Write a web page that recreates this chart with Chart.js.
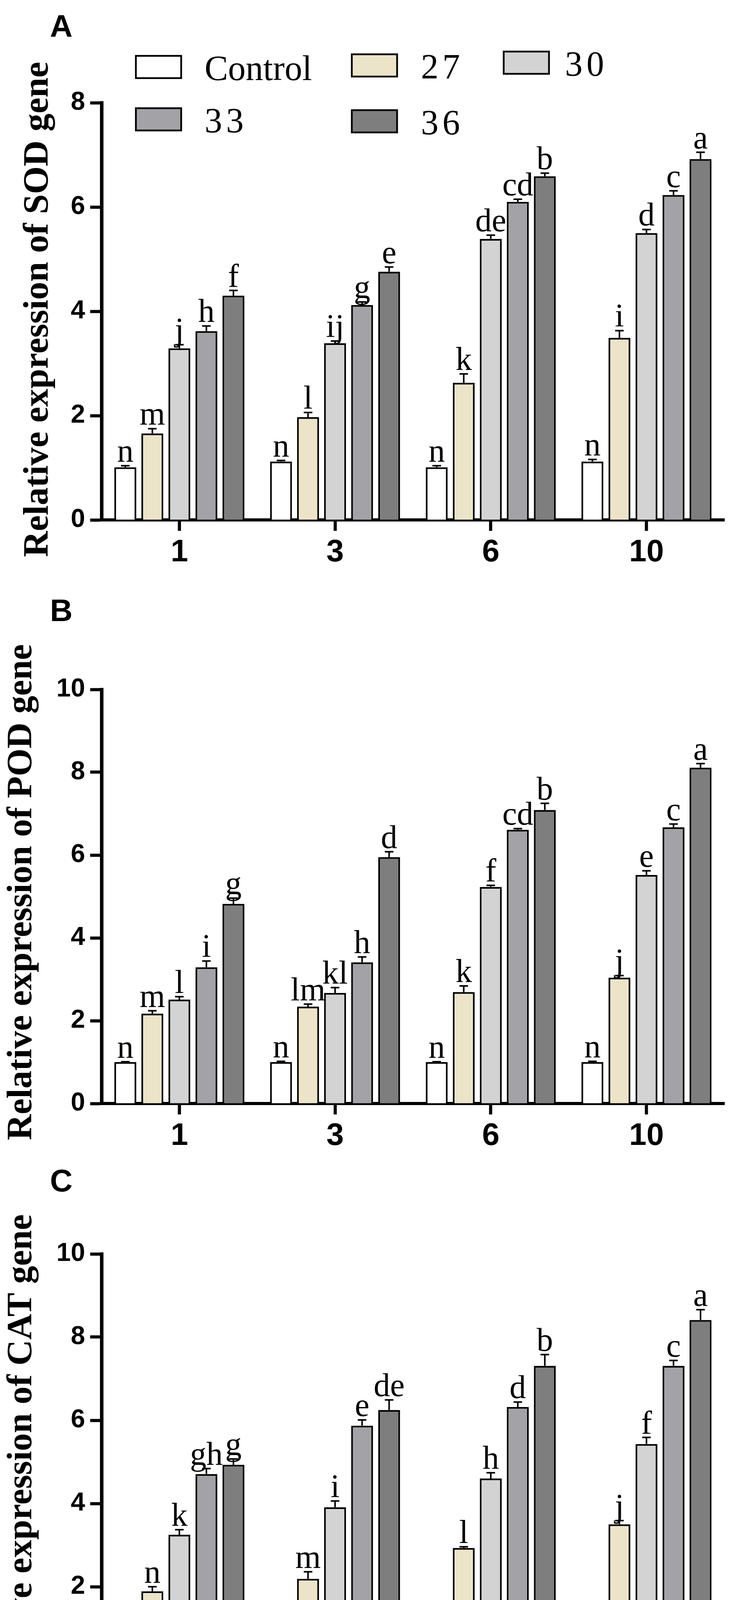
<!DOCTYPE html>
<html>
<head>
<meta charset="utf-8">
<title>Relative expression of SOD, POD and CAT genes</title>
<script src="https://cdn.jsdelivr.net/npm/chart.js@4.4.1/dist/chart.umd.min.js"></script>
<style>
  html, body { margin: 0; padding: 0; background: #fff; }
  body { width: 1867px; height: 4536px; position: relative; overflow: hidden; }
  .panel { position: absolute; left: 0; width: 1867px; }
</style>
</head>
<body>
<div class="panel" style="top:0;height:1481px"><canvas id="chartSOD"></canvas></div>
<div class="panel" style="top:1481px;height:1494px"><canvas id="chartPOD"></canvas></div>
<div class="panel" style="top:2975px;height:1561px"><canvas id="chartCAT"></canvas></div>

<script>
// ---- data ----
const durations = ['1', '3', '6', '10'];
const seriesNames = ['Control', '27', '30', '33', '36'];
const seriesColors = ['#ffffff', '#ebe4c9', '#d3d3d3', '#a3a3a7', '#7e7e7e'];

// SOD (panel A) - one row per series, one column per duration
const sodMean = [
  [1.01, 1.12, 1.01, 1.12],
  [1.66, 1.97, 2.63, 3.49],
  [3.29, 3.39, 5.39, 5.50],
  [3.62, 4.12, 6.10, 6.23],
  [4.30, 4.76, 6.59, 6.92]
];
const sodSd = [
  [0.03, 0.02, 0.03, 0.04],
  [0.09, 0.09, 0.17, 0.14],
  [0.07, 0.04, 0.07, 0.07],
  [0.10, 0.06, 0.05, 0.08],
  [0.10, 0.09, 0.06, 0.13]
];
const sodLetters = [
  ['n', 'n', 'n', 'n'],
  ['m', 'l', 'k', 'i'],
  ['j', 'ij', 'de', 'd'],
  ['h', 'g', 'cd', 'c'],
  ['f', 'e', 'b', 'a']
];

// POD (panel B)
const podMean = [
  [1.00, 1.00, 1.00, 1.00],
  [2.17, 2.34, 2.69, 3.04],
  [2.51, 2.67, 5.23, 5.52],
  [3.29, 3.41, 6.61, 6.67],
  [4.82, 5.95, 7.09, 8.11]
];
const podSd = [
  [0.01, 0.02, 0.01, 0.02],
  [0.07, 0.06, 0.15, 0.05],
  [0.07, 0.13, 0.04, 0.10],
  [0.15, 0.13, 0.03, 0.08],
  [0.14, 0.13, 0.16, 0.10]
];
const podLetters = [
  ['n', 'n', 'n', 'n'],
  ['m', 'lm', 'k', 'j'],
  ['l', 'kl', 'f', 'e'],
  ['i', 'h', 'cd', 'c'],
  ['g', 'd', 'b', 'a']
];

// CAT (panel C)
const catMean = [
  [1.03, 1.05, 1.03, 1.05],
  [1.89, 2.19, 2.93, 3.50],
  [3.25, 3.91, 4.60, 5.43],
  [4.71, 5.87, 6.32, 7.31],
  [4.93, 6.25, 7.31, 8.41]
];
const catSd = [
  [0.07, 0.06, 0.07, 0.09],
  [0.11, 0.17, 0.03, 0.09],
  [0.12, 0.15, 0.14, 0.16],
  [0.13, 0.14, 0.12, 0.13],
  [0.14, 0.24, 0.27, 0.25]
];
const catLetters = [
  ['o', 'o', 'o', 'o'],
  ['n', 'm', 'l', 'j'],
  ['k', 'i', 'h', 'f'],
  ['gh', 'e', 'd', 'c'],
  ['g', 'de', 'b', 'a']
];

const yTicksSOD = [0, 2, 4, 6, 8];
const yTicksPOD = [0, 2, 4, 6, 8, 10];
const yTicksCAT = [0, 2, 4, 6, 8, 10];

// ---- plugins ----
// error bars (upper half only) and significance letters
const sigMarks = {
  id: 'sigMarks',
  afterDatasetsDraw(chart) {
    const ctx = chart.ctx;
    const y = chart.scales.y;
    ctx.save();
    ctx.strokeStyle = '#000';
    ctx.fillStyle = '#000';
    ctx.lineWidth = 4;
    ctx.font = '84px "Liberation Serif"';
    ctx.textAlign = 'center';
    ctx.textBaseline = 'alphabetic';
    chart.data.datasets.forEach((ds, i) => {
      chart.getDatasetMeta(i).data.forEach((bar, j) => {
        const top = y.getPixelForValue(ds.data[j] + ds.sd[j]);
        ctx.beginPath();
        ctx.moveTo(bar.x, bar.y);
        ctx.lineTo(bar.x, top);
        ctx.moveTo(bar.x - 11, top);
        ctx.lineTo(bar.x + 11, top);
        ctx.stroke();
        ctx.fillText(ds.letters[j], bar.x, top - 10);
      });
    });
    ctx.restore();
  }
};

// panel letter, fitted y title, legend for panel A
const panelDecor = {
  id: 'panelDecor',
  afterDraw(chart, args, opts) {
    const ctx = chart.ctx;
    ctx.save();
    ctx.fillStyle = '#000';
    ctx.font = 'bold 80px "Liberation Sans"';
    ctx.textAlign = 'left';
    ctx.textBaseline = 'alphabetic';
    ctx.fillText(opts.letter, 128, opts.letterBase);

    ctx.save();
    ctx.font = 'bold 90px "Liberation Serif"';
    const w = ctx.measureText(opts.yTitle).width;
    ctx.translate(opts.titleX, opts.titleY);
    ctx.rotate(-Math.PI / 2);
    ctx.scale(opts.titleLen / w, 1);
    ctx.textAlign = 'center';
    ctx.fillText(opts.yTitle, 0, 0);
    ctx.restore();

    if (opts.legend) {
      const spots = [[348, 143], [901, 139], [1290, 132], [348, 277], [901, 282]];
      const textX = [524, 1078, 1447, 524, 1078];
      ctx.font = '90px "Liberation Serif"';
      ctx.lineWidth = 4.5;
      ctx.strokeStyle = '#000';
      seriesNames.forEach((name, i) => {
        const [bx, by] = spots[i];
        ctx.fillStyle = seriesColors[i];
        ctx.fillRect(bx, by, 116, 57);
        ctx.strokeRect(bx, by, 116, 57);
        ctx.fillStyle = '#000';
        ctx.letterSpacing = name === 'Control' ? '0px' : '10px';
        ctx.fillText(name, textX[i], by + 62);
      });
    }
    ctx.restore();
  }
};

function makeChart(canvasId, cfg) {
  const datasets = seriesNames.map((name, i) => ({
    label: name,
    data: cfg.mean[i],
    sd: cfg.sd[i],
    letters: cfg.letters[i],
    backgroundColor: seriesColors[i],
    borderColor: '#000',
    borderWidth: 4.5
  }));
  return new Chart(document.getElementById(canvasId), {
    type: 'bar',
    data: { labels: durations, datasets },
    plugins: [sigMarks, panelDecor],
    options: {
      responsive: true,
      maintainAspectRatio: false,
      animation: false,
      devicePixelRatio: 1,
      layout: { padding: { top: cfg.padTop, right: 12, left: 0, bottom: 0 } },
      datasets: { bar: { categoryPercentage: 0.868, barPercentage: 0.81 } },
      plugins: {
        legend: { display: false },
        tooltip: { enabled: false },
        panelDecor: cfg.decor
      },
      scales: {
        x: {
          grid: { display: true, offset: false, drawOnChartArea: false, drawTicks: true,
                  tickLength: 28, tickWidth: 8, tickColor: '#000', color: '#000' },
          border: { display: true, color: '#000', width: 8 },
          ticks: { color: '#000', padding: 8, maxRotation: 0,
                   font: { family: 'Liberation Sans', weight: 'bold', size: 80 } },
          title: {
            display: !!cfg.xTitle,
            text: cfg.xTitle || '',
            color: '#000',
            padding: { top: 0, bottom: 20 },
            font: { family: 'Liberation Serif', weight: 'bold', size: 90 }
          },
          afterFit: s => { s.height = cfg.xHeight; }
        },
        y: {
          min: 0,
          max: cfg.yTicks[cfg.yTicks.length - 1],
          afterBuildTicks: s => { s.ticks = cfg.yTicks.map(v => ({ value: v })); },
          grid: { display: true, drawOnChartArea: false, drawTicks: true,
                  tickLength: 29, tickWidth: 8, tickColor: '#000', color: '#000' },
          border: { display: true, color: '#000', width: 9 },
          ticks: { color: '#000', padding: 13,
                   font: { family: 'Liberation Sans', weight: 'bold', size: 66 } },
          afterFit: s => { s.width = 260; }
        }
      }
    }
  });
}

makeChart('chartSOD', {
  mean: sodMean, sd: sodSd, letters: sodLetters, yTicks: yTicksSOD,
  padTop: 263, xHeight: 150,
  decor: { letter: 'A', letterBase: 94, yTitle: 'Relative expression of SOD gene',
           titleX: 122, titleY: 792, titleLen: 1268, legend: true }
});
makeChart('chartPOD', {
  mean: podMean, sd: podSd, letters: podLetters, yTicks: yTicksPOD,
  padTop: 284, xHeight: 150,
  decor: { letter: 'B', letterBase: 109, yTitle: 'Relative expression of POD gene',
           titleX: 80, titleY: 803, titleLen: 1270, legend: false }
});
makeChart('chartCAT', {
  mean: catMean, sd: catSd, letters: catLetters, yTicks: yTicksCAT,
  padTop: 235, xHeight: 261, xTitle: 'Treatment duration (h)',
  decor: { letter: 'C', letterBase: 75, yTitle: 'Relative expression of CAT gene',
           titleX: 80, titleY: 765, titleLen: 1263, legend: false }
});
</script>
</body>
</html>
